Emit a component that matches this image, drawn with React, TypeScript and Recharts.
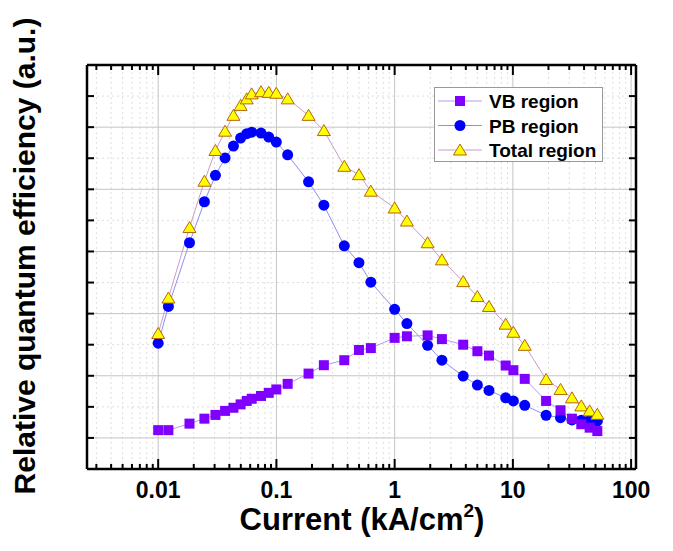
import React from "react";
import { LineChart, Line, XAxis, YAxis, ReferenceLine } from "recharts";

const FONT = "'Liberation Sans', Arial, sans-serif";

// Current density (kA/cm2)
const current = [
  0.01, 0.0122, 0.0184, 0.0246, 0.0305, 0.0368, 0.0433, 0.0498, 0.0561, 0.0618,
  0.0741, 0.0861, 0.0998, 0.1245, 0.187, 0.252, 0.375, 0.499, 0.629, 1.0,
  1.27, 1.9, 2.51, 3.8, 5.01, 6.28, 8.69, 10.1, 12.6, 19.1,
  25.3, 31.6, 37.9, 44.6, 51.8,
];

const vbRegion = [
  0.025, 0.025, 0.046, 0.062, 0.074, 0.087, 0.097, 0.108, 0.119, 0.126,
  0.135, 0.145, 0.156, 0.174, 0.207, 0.234, 0.25, 0.283, 0.289, 0.322,
  0.327, 0.33, 0.318, 0.3, 0.279, 0.265, 0.233, 0.218, 0.19, 0.119,
  0.089, 0.062, 0.044, 0.033, 0.022,
];

const pbRegion = [
  0.305, 0.423, 0.628, 0.76, 0.845, 0.901, 0.939, 0.965, 0.979, 0.984,
  0.981, 0.968, 0.952, 0.911, 0.824, 0.749, 0.618, 0.564, 0.501, 0.414,
  0.368, 0.298, 0.25, 0.199, 0.17, 0.153, 0.129, 0.119, 0.105, 0.073,
  0.065, 0.058, 0.057, 0.057, 0.054,
];

const totalRegion = [
  0.336, 0.45, 0.677, 0.826, 0.925, 0.987, 1.038, 1.07, 1.091, 1.107,
  1.114, 1.112, 1.109, 1.091, 1.038, 0.989, 0.874, 0.847, 0.794, 0.74,
  0.698, 0.628, 0.573, 0.503, 0.455, 0.423, 0.366, 0.34, 0.298, 0.188,
  0.156, 0.129, 0.103, 0.087, 0.076,
];

const xMajor = [0.01, 0.1, 1, 10, 100];
const xMinor = [0.001, 0.01, 0.1, 1, 10]
  .flatMap((d) => [2, 3, 4, 5, 6, 7, 8, 9].map((m) => +(m * d).toPrecision(3)))
  .filter((v) => v > 0.0025 && v < 110);
const xTicks = [...xMajor, ...xMinor].sort((a, b) => a - b);

const yMajor = [0, 0.2, 0.4, 0.6, 0.8, 1.0];
const yMinor = [0.1, 0.3, 0.5, 0.7, 0.9, 1.1];
const yTicks = [...yMajor, ...yMinor].sort((a, b) => a - b);

const data = current.map((x, i) => ({
  x,
  vb: vbRegion[i],
  pb: pbRegion[i],
  total: totalRegion[i],
}));

const COLORS = {
  vb: "#8000ff",
  vbLine: "#b79be6",
  pb: "#0000ff",
  pbLine: "#8f8ff0",
  total: "#ffff00",
  totalEdge: "#b5650f",
  totalLine: "#c99ccb",
};

const isDecade = (v: number) =>
  Math.abs(Math.log10(v) - Math.round(Math.log10(v))) < 1e-6;

// bottom axis: ticks point inward, labels only on decades
const BottomTick = ({ x, y, payload }: any) => {
  const v = payload.value;
  const major = isDecade(v);
  return (
    <g>
      <line x1={x} x2={x} y1={y} y2={y - (major ? 10 : 5)} stroke="#000" strokeWidth={2} />
      {major && (
        <text x={x} y={y + 29} textAnchor="middle" fontSize={23} fontWeight="bold" fontFamily={FONT} fill="#000">
          {String(v)}
        </text>
      )}
    </g>
  );
};

const TopTick = ({ x, y, payload }: any) => {
  const major = isDecade(payload.value);
  return <line x1={x} x2={x} y1={y} y2={y + (major ? 10 : 5)} stroke="#000" strokeWidth={2} />;
};

const LeftTick = ({ x, y }: any) => (
  <line x1={x} x2={x + 7} y1={y} y2={y} stroke="#000" strokeWidth={2} />
);

const RightTick = ({ x, y }: any) => (
  <line x1={x} x2={x - 7} y1={y} y2={y} stroke="#000" strokeWidth={2} />
);

const SquareDot = ({ cx, cy, index }: any) =>
  cx == null ? null : (
    <rect key={index} x={cx - 5} y={cy - 5} width={10} height={10} fill={COLORS.vb} />
  );

const CircleDot = ({ cx, cy, index }: any) =>
  cx == null ? null : <circle key={index} cx={cx} cy={cy} r={5.5} fill={COLORS.pb} />;

const TriangleDot = ({ cx, cy, index }: any) =>
  cx == null ? null : (
    <polygon
      key={index}
      points={`${cx},${cy - 6} ${cx - 6.5},${cy + 5} ${cx + 6.5},${cy + 5}`}
      fill={COLORS.total}
      stroke={COLORS.totalEdge}
      strokeWidth={1}
    />
  );

const legendItems = [
  { name: "VB region", line: COLORS.vbLine, marker: "square" },
  { name: "PB region", line: COLORS.pbLine, marker: "circle" },
  { name: "Total region", line: COLORS.totalLine, marker: "triangle" },
];

function ChartLegend() {
  return (
    <svg width={170} height={76} style={{ position: "absolute", left: 426, top: 79 }}>
      <rect x={0.5} y={0.5} width={168} height={74} fill="#fff" stroke="#999" />
      {legendItems.map((it, i) => {
        const cy = 14 + i * 24.5;
        return (
          <g key={it.name}>
            <line x1={4} x2={48} y1={cy} y2={cy} stroke={it.line} strokeWidth={1} />
            {it.marker === "square" && <rect x={21} y={cy - 5} width={10} height={10} fill={COLORS.vb} />}
            {it.marker === "circle" && <circle cx={26} cy={cy} r={5.5} fill={COLORS.pb} />}
            {it.marker === "triangle" && (
              <polygon
                points={`26,${cy - 6} 19.5,${cy + 5} 32.5,${cy + 5}`}
                fill={COLORS.total}
                stroke={COLORS.totalEdge}
              />
            )}
            <text x={55} y={cy + 7} fontSize={19} fontWeight="bold" fontFamily={FONT} fill="#000">
              {it.name}
            </text>
          </g>
        );
      })}
    </svg>
  );
}

export default function App() {
  const axisLine = { stroke: "#000", strokeWidth: 2.5 };
  return (
    <div style={{ position: "relative", width: 665, height: 543 }}>
      <LineChart
        width={665}
        height={543}
        data={data}
        margin={{ top: 56, right: 36, bottom: 81, left: 78 }}
      >
        <XAxis
          dataKey="x"
          type="number"
          scale="log"
          domain={[0.0025, 110]}
          allowDataOverflow
          ticks={xTicks}
          interval={0}
          height={1}
          tickSize={0}
          tickMargin={0}
          tickLine={false}
          axisLine={axisLine}
          tick={<BottomTick />}
        />
        <XAxis
          xAxisId="top"
          orientation="top"
          dataKey="x"
          type="number"
          scale="log"
          domain={[0.0025, 110]}
          allowDataOverflow
          ticks={xTicks}
          interval={0}
          height={1}
          tickSize={0}
          tickMargin={0}
          tickLine={false}
          axisLine={axisLine}
          tick={<TopTick />}
        />
        <YAxis
          type="number"
          domain={[-0.1, 1.2]}
          allowDataOverflow
          ticks={yTicks}
          interval={0}
          width={1}
          tickSize={0}
          tickMargin={0}
          tickLine={false}
          axisLine={axisLine}
          tick={<LeftTick />}
        />
        <YAxis
          yAxisId="right"
          orientation="right"
          type="number"
          domain={[-0.1, 1.2]}
          allowDataOverflow
          ticks={yTicks}
          interval={0}
          width={1}
          tickSize={0}
          tickMargin={0}
          tickLine={false}
          axisLine={axisLine}
          tick={<RightTick />}
        />

        {xMinor.map((v) => (
          <ReferenceLine key={`xm${v}`} x={v} stroke="#dedede" strokeDasharray="2 3" />
        ))}
        {yMinor.map((v) => (
          <ReferenceLine key={`ym${v}`} y={v} stroke="#dedede" strokeDasharray="2 3" />
        ))}
        {xMajor.map((v) => (
          <ReferenceLine key={`xM${v}`} x={v} stroke="#c4c4c4" />
        ))}
        {yMajor.map((v) => (
          <ReferenceLine key={`yM${v}`} y={v} stroke="#c4c4c4" />
        ))}

        <Line
          dataKey="pb"
          stroke={COLORS.pbLine}
          strokeWidth={1}
          dot={<CircleDot />}
          activeDot={false}
          isAnimationActive={false}
        />
        <Line
          dataKey="vb"
          stroke={COLORS.vbLine}
          strokeWidth={1}
          dot={<SquareDot />}
          activeDot={false}
          isAnimationActive={false}
        />
        <Line
          dataKey="total"
          stroke={COLORS.totalLine}
          strokeWidth={1}
          dot={<TriangleDot />}
          activeDot={false}
          isAnimationActive={false}
        />
      </LineChart>

      {/* axis titles, in page coordinates */}
      <svg width={673} height={551} style={{ position: "absolute", left: -8, top: -8, pointerEvents: "none" }}>
        <text
          x={24}
          y={256}
          transform="rotate(-90, 24, 256)"
          textAnchor="middle"
          dominantBaseline="central"
          fontSize={30}
          fontWeight="bold"
          fontFamily={FONT}
          fill="#000"
        >
          Relative quantum efficiency (a.u.)
        </text>
        <text x={362} y={530} textAnchor="middle" fontSize={31} fontWeight="bold" fontFamily={FONT} fill="#000">
          Current (kA/cm
          <tspan fontSize={19} dy={-13}>2</tspan>
          <tspan dy={13}>)</tspan>
        </text>
      </svg>
      <ChartLegend />
    </div>
  );
}
